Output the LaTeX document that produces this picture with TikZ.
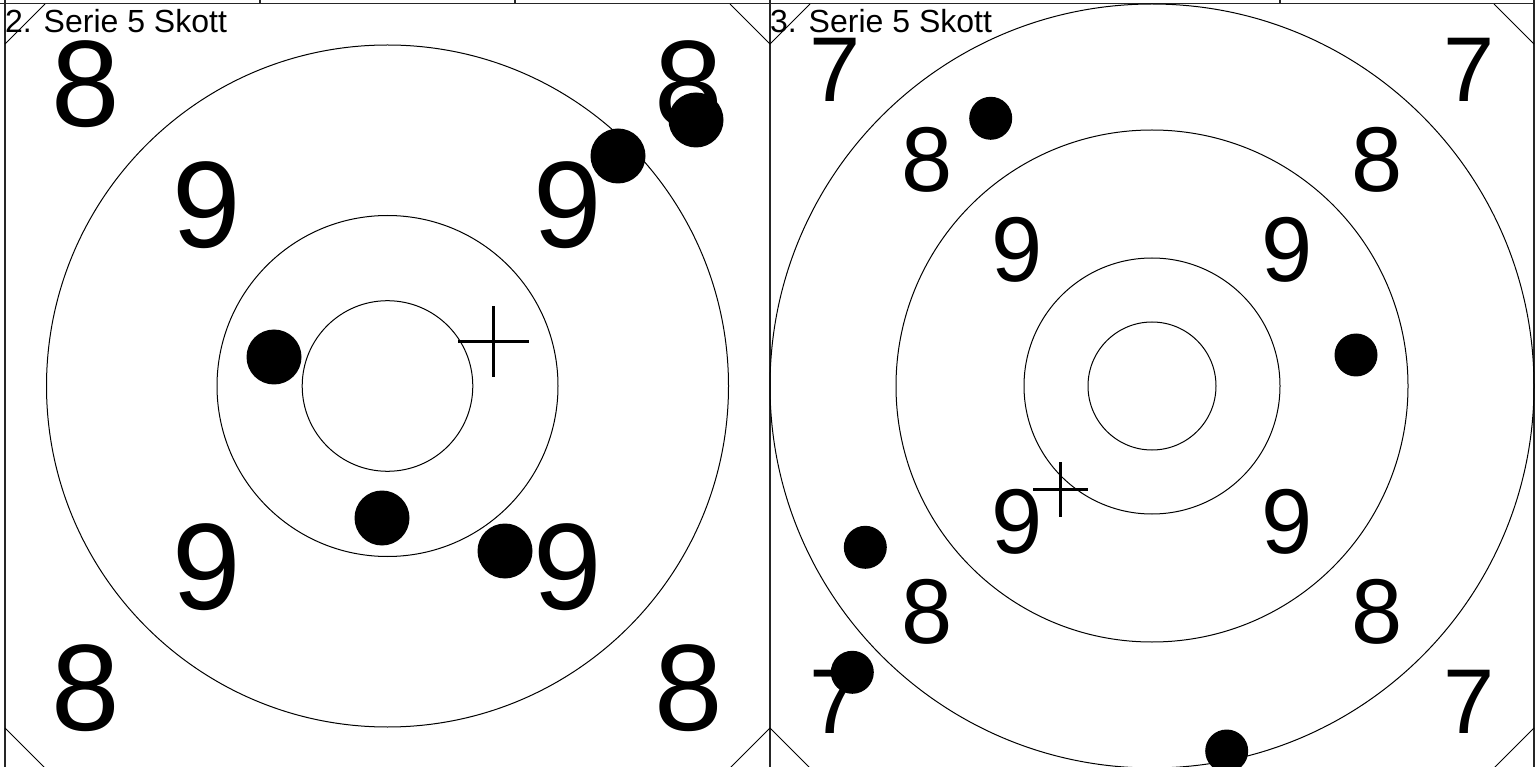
\documentclass[tikz,border=0pt]{standalone}
\usepackage{fontspec}
\setmainfont{Liberation Sans}
\usepackage{tikz}

\tikzset{
  ring/.style={line width=1pt},
  frame/.style={line width=1.5pt, black!85},
  corner/.style={line width=0.8pt},
  aim/.style={line width=3.5pt},
  shot/.style={circle, fill=black, inner sep=0pt, minimum size=#1},
  numbig/.style={inner sep=0pt, font=\fontsize{123}{123}\selectfont},
  numsmall/.style={inner sep=0pt, font=\fontsize{92}{92}\selectfont},
  serie/.style={inner sep=0pt, anchor=base west, font=\fontsize{32}{32}\selectfont}
}

\begin{document}
\begin{tikzpicture}[x=1pt,y=-1pt]
    \useasboundingbox (0,0) rectangle (1535,767);
    % table lines on top
    \draw[frame] (0,3.5) -- (1535,3.5);
    \draw[frame] (260,0) -- (260,3.5);
    \draw[frame] (515,0) -- (515,3.5);
    \draw[frame] (1280,0) -- (1280,3.5);
    \draw[frame] (5,0) -- (5,767);
    \draw[frame] (770,0) -- (770,767);
    \draw[frame] (1534,0) -- (1534,767);

    % left target
    \draw[corner] (5,44) -- (45,4);
    \draw[corner] (730,4) -- (770,44);
    \draw[corner] (5,728) -- (45,768);
    \draw[corner] (770,728) -- (730,768);
    \draw[ring] (387.5,386) circle[radius=341pt];
    \draw[ring] (387.5,386) circle[radius=170.5pt];
    \draw[ring] (387.5,386) circle[radius=85.3pt];
    \node[serie] (t2) at (5,33) {2. Serie 5 Skott};
    \node[numbig] (l8a) at (86,84) {8};
    \node[numbig] (l8b) at (689,84) {8};
    \node[numbig] (l8c) at (86,688) {8};
    \node[numbig] (l8d) at (689,688) {8};
    \node[numbig] (l9a) at (207,205) {9};
    \node[numbig] (l9b) at (568,205) {9};
    \node[numbig] (l9c) at (207,567) {9};
    \node[numbig] (l9d) at (568,567) {9};
    \node[shot=55pt] (s21) at (274,357) {};
    \node[shot=55pt] (s22) at (382,518) {};
    \node[shot=55pt] (s23) at (505,551) {};
    \node[shot=55pt] (s24) at (618,156) {};
    \node[shot=55pt] (s25) at (696,120) {};
    \draw[aim] (458,341.7) -- (529,341.7);
    \draw[aim] (493.3,306.5) -- (493.3,377);

    % right target
    \draw[corner] (770,44) -- (810,4);
    \draw[corner] (1494,4) -- (1534,44);
    \draw[corner] (770,728) -- (810,768);
    \draw[corner] (1534,728) -- (1494,768);
    \draw[ring] (1152,386) circle[radius=382pt];
    \draw[ring] (1152,386) circle[radius=256pt];
    \draw[ring] (1152,386) circle[radius=128pt];
    \draw[ring] (1152,386) circle[radius=64pt];
    \node[serie] (t3) at (770,33) {3. Serie 5 Skott};
    \node[numsmall] (r7a) at (835,70) {7};
    \node[numsmall] (r7b) at (1469,70) {7};
    \node[numsmall] (r7c) at (835,702) {7};
    \node[numsmall] (r7d) at (1469,702) {7};
    \node[numsmall] (r8a) at (927,160) {8};
    \node[numsmall] (r8b) at (1377,160) {8};
    \node[numsmall] (r8c) at (927,612) {8};
    \node[numsmall] (r8d) at (1377,612) {8};
    \node[numsmall] (r9a) at (1017,250) {9};
    \node[numsmall] (r9b) at (1287,250) {9};
    \node[numsmall] (r9c) at (1017,522) {9};
    \node[numsmall] (r9d) at (1287,522) {9};
    \node[shot=43pt] (s31) at (990.7,118.3) {};
    \node[shot=43pt] (s32) at (1356,355) {};
    \node[shot=43pt] (s33) at (865.3,547.3) {};
    \node[shot=43pt] (s34) at (852.3,672.3) {};
    \node[shot=43pt] (s35) at (1226.7,751) {};
    \draw[aim, line width=3pt] (1033.3,489) -- (1087.7,489);
    \draw[aim, line width=3pt] (1060,462) -- (1060,516.7);
\end{tikzpicture}
\end{document}
